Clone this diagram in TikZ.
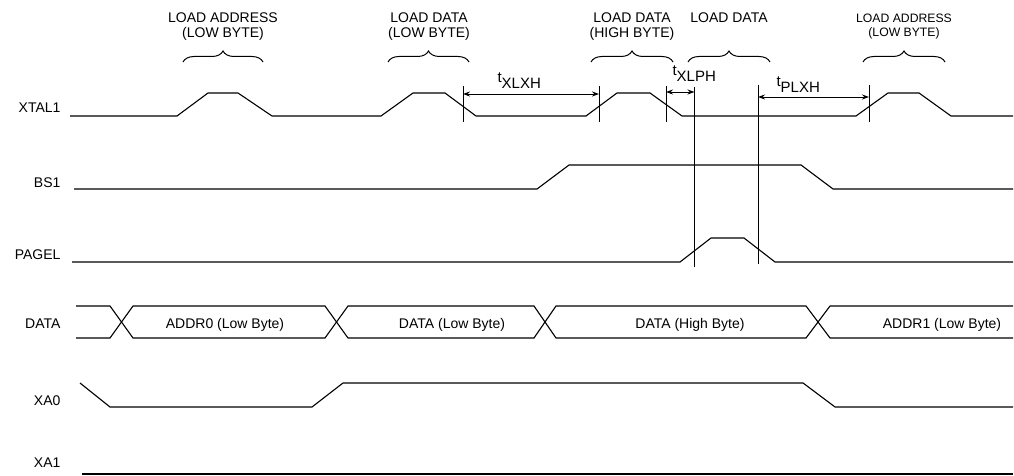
\documentclass[tikz,border=0pt]{standalone}
\usepackage{fontspec}
\setmainfont{Liberation Sans}
\usetikzlibrary{decorations.pathreplacing,arrows.meta}
\begin{document}
\begin{tikzpicture}[x=1pt,y=-1pt,line width=1.1pt,
    sig/.style={line width=1.1pt},
    brc/.style={decorate,decoration={brace,amplitude=11pt},line width=1pt},
    txt/.style={inner sep=0pt,font=\fontsize{14}{15}\selectfont},
    tlbl/.style={inner sep=0pt,anchor=base west,font=\fontsize{15}{16}\selectfont},
    dim/.style={{Stealth[length=7pt,width=5pt]}-{Stealth[length=7pt,width=5pt]},line width=0.9pt}]
    \useasboundingbox (0,0) rectangle (1014,476);
    % signal names
    \node[txt,anchor=base east] (N0) at (61,113) {XTAL1};
    \node[txt,anchor=base east] (N1) at (61,187) {BS1};
    \node[txt,anchor=base east] (N2) at (61,259) {PAGEL};
    \node[txt,anchor=base east] (N3) at (61,328) {DATA};
    \node[txt,anchor=base east] (N4) at (61,405) {XA0};
    \node[txt,anchor=base east] (N5) at (61,467) {XA1};
    % braces and their labels
    \draw[brc] (183,62) -- (263,62);
    \draw[brc] (388,62) -- (469,62);
    \draw[brc] (591,62) -- (673,62);
    \draw[brc] (688,62) -- (770,62);
    \draw[brc] (863,62) -- (945,62);
    \node[txt,align=center,anchor=north] (L0) at (223,12) {LOAD ADDRESS\\(LOW BYTE)};
    \node[txt,align=center,anchor=north] (L1) at (429,12) {LOAD DATA\\(LOW BYTE)};
    \node[txt,align=center,anchor=north] (L2) at (632,12) {LOAD DATA\\(HIGH BYTE)};
    \node[txt,align=center,anchor=north] (L3) at (729,12) {LOAD DATA};
    \node[txt,align=center,anchor=north,font=\fontsize{12.2}{14}\selectfont] (L4) at (904,13) {LOAD ADDRESS\\(LOW BYTE)};
    % waveforms
    \draw[sig] (70,116) -- (177,116) -- (208,93) -- (238,93) -- (272,116) -- (381,116) -- (413,93) -- (445,93) -- (476,116)
        -- (586,116) -- (617,93) -- (650,93) -- (682,116) -- (856,116) -- (888,93) -- (919,93) -- (951,116) -- (1013,116);
    \draw[sig] (74,189) -- (537,189) -- (569,165) -- (801,165) -- (833,189) -- (1013,189);
    \draw[sig] (72,262) -- (680,262) -- (711,238) -- (744,238) -- (775,262) -- (1013,262);
    \draw[sig] (76,306) -- (110,306) -- (133,338) -- (325,338) -- (348,306) -- (534,306) -- (556,338) -- (806,338) -- (830,306) -- (1013,306);
    \draw[sig] (76,338) -- (110,338) -- (133,306) -- (325,306) -- (348,338) -- (534,338) -- (556,306) -- (806,306) -- (830,338) -- (1013,338);
    \draw[sig] (80,383) -- (110,407) -- (312,407) -- (343,383) -- (803,383) -- (835,407) -- (1013,407);
    \draw[sig] (82,474) -- (1013,474);
    % bus values
    \node[txt,anchor=base] (D0) at (225,328) {ADDR0 (Low Byte)};
    \node[txt,anchor=base] (D1) at (452,328) {DATA (Low Byte)};
    \node[txt,anchor=base] (D2) at (690,328) {DATA (High Byte)};
    \node[txt,anchor=base] (D3) at (942,328) {ADDR1 (Low Byte)};
    % timing markers
    \coordinate (M1) at (463,94);
    \coordinate (M2) at (599,94);
    \coordinate (M3) at (666,92);
    \coordinate (M4) at (694.5,92);
    \coordinate (M5) at (758,97);
    \coordinate (M6) at (869,97);
    \draw[line width=1pt] (463,86) -- (463,122);
    \draw[line width=1pt] (599,86) -- (599,122);
    \draw[line width=1pt] (666,86) -- (666,122);
    \draw[line width=1pt] (694.5,87) -- (694.5,267);
    \draw[line width=1pt] (758,85) -- (758,264);
    \draw[line width=1pt] (869,85) -- (869,122);
    \draw[dim] (M1) -- (M2);
    \draw[dim] (M3) -- (M4);
    \draw[dim] (M5) -- (M6);
    \node[tlbl] (T0) at (497,83) {t\raisebox{-6pt}{XLXH}};
    \node[tlbl] (T1) at (672,76) {t\raisebox{-6pt}{XLPH}};
    \node[tlbl] (T2) at (776,87) {t\raisebox{-6pt}{PLXH}};
\end{tikzpicture}
\end{document}
